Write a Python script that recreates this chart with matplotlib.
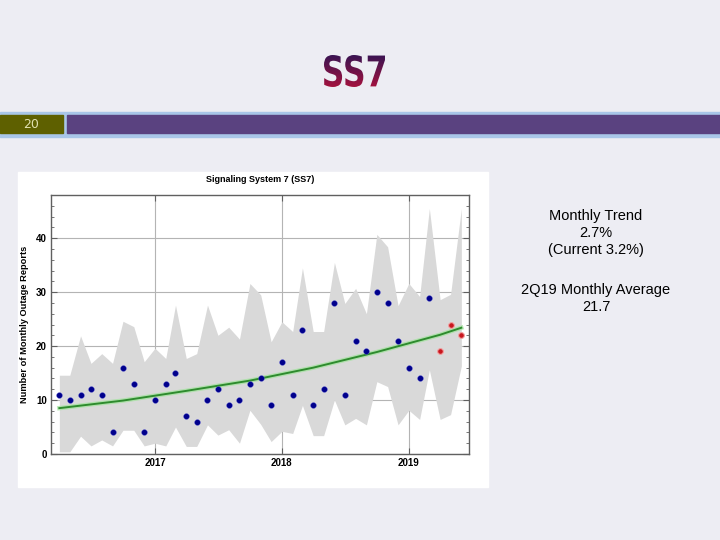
import matplotlib
matplotlib.use("Agg")
import numpy as np
import pandas as pd
import matplotlib.pyplot as plt
import matplotlib.dates as mdates
from matplotlib.patches import Rectangle, PathPatch
from matplotlib.textpath import TextPath
from matplotlib.font_manager import FontProperties
from matplotlib.transforms import Affine2D
from matplotlib.colors import LinearSegmentedColormap
from matplotlib.ticker import MultipleLocator

# monthly outage reports, Apr 2016 .. Jun 2019 (last 3 = current quarter)
counts = [11, 10, 11, 12, 11, 4, 16, 13, 4,
          10, 13, 15, 7, 6, 10, 12, 9, 10, 13, 14, 9,
          17, 11, 23, 9, 12, 28, 11, 21, 19, 30, 28, 21,
          16, 14, 29, 19, 24, 22]
upper = [14.6, 14.6, 21.9, 16.8, 18.6, 16.8, 24.6, 23.6, 17.1,
         19.6, 17.7, 27.6, 17.7, 18.6, 27.6, 22.0, 23.5, 21.3, 31.6, 29.5, 20.8,
         24.5, 22.7, 34.5, 22.7, 22.7, 35.5, 27.9, 30.7, 26.0, 40.7, 38.4, 27.5,
         31.6, 29.2, 45.5, 28.6, 29.6, 45.5]
lower = [0.4, 0.4, 3.3, 1.5, 2.6, 1.5, 4.4, 4.4, 1.5,
         2.0, 1.5, 5.0, 1.4, 1.4, 5.4, 3.5, 4.5, 2.0, 8.1, 5.5, 2.3,
         4.2, 3.8, 9.0, 3.4, 3.4, 10.0, 5.4, 6.6, 5.4, 13.4, 12.5, 5.4,
         8.1, 6.4, 15.6, 6.4, 7.3, 16.3]
n_current = 3

# trend curve (month index, value)
trend_idx = [0, 6, 12, 18, 24, 30, 36, 38]
trend_vals = [8.5, 9.9, 11.7, 13.6, 16.0, 18.9, 22.1, 23.4]

side_lines = ["Monthly Trend", "2.7%", "(Current 3.2%)"]
side_lines2 = ["2Q19 Monthly Average", "21.7"]

months = pd.date_range("2016-04-01", periods=len(counts), freq="MS")
trend_dates = months[trend_idx]

fig = plt.figure(figsize=(7.2, 5.4), dpi=100, facecolor="#EDEDF3")

# slide header
fig.add_artist(Rectangle((0, 1 - 137 / 540), 1, 25 / 540, transform=fig.transFigure,
                         color="#A9C6E8", zorder=0))
fig.add_artist(Rectangle((0, 1 - 133 / 540), 63 / 720, 18 / 540, transform=fig.transFigure,
                         color="#5E6000", zorder=1))
fig.add_artist(Rectangle((67 / 720, 1 - 133 / 540), 1, 18 / 540, transform=fig.transFigure,
                         color="#5A4280", zorder=1))
fig.text(31 / 720, 1 - 124 / 540, "20", color="#E0E0B0", fontsize=9, ha="center", va="center")

# condensed "SS7" title with purple -> crimson gradient, in slide pixel coords
slide = fig.add_axes([0, 0, 1, 1], zorder=-1)
slide.set_xlim(0, 720)
slide.set_ylim(540, 0)
slide.axis("off")
tp = TextPath((0, 0), "SS7", size=40, prop=FontProperties(family="DejaVu Sans", weight="bold"))
ext = tp.get_extents()
x0, x1, y0, y1 = 324, 385, 55, 87
tr = (Affine2D().translate(-ext.x0, -ext.y0)
      .scale((x1 - x0) / ext.width, -(y1 - y0) / ext.height)
      .translate(x0, y1))
patch = PathPatch(tr.transform_path(tp), facecolor="none", edgecolor="none")
slide.add_patch(patch)
grad = LinearSegmentedColormap.from_list("ss7", ["#3A1452", "#A3123E"])
img = slide.imshow(np.linspace(0, 1, 64).reshape(-1, 1), cmap=grad, aspect="auto",
                   extent=(x0, x1, y1, y0), origin="upper")
img.set_clip_path(patch)
slide.set_xlim(0, 720)
slide.set_ylim(540, 0)

# white chart panel
fig.add_artist(Rectangle((18 / 720, 1 - 487 / 540), 470 / 720, 315 / 540,
                         transform=fig.transFigure, color="white", zorder=0))

ax = fig.add_axes([51 / 720, 1 - 454 / 540, 418 / 720, 259 / 540])
ax.set_facecolor("white")
ax.set_axisbelow(True)

ax.fill_between(months, lower, upper, color="#D9D9D9", lw=0, zorder=1)
ax.plot(trend_dates, trend_vals, color="#9FE39A", lw=3.2, alpha=0.7, zorder=2)
ax.plot(trend_dates, trend_vals, color="#2E8B2E", lw=1.4, zorder=3)
ax.scatter(months[:-n_current], counts[:-n_current], s=17, color="#00008C",
           edgecolors="#5A5AD0", linewidths=0.3, zorder=4)
ax.scatter(months[-n_current:], counts[-n_current:], s=17, color="#C8161E",
           edgecolors="#F2A0A0", linewidths=0.8, zorder=4)

ax.set_xlim(pd.Timestamp("2016-03-08"), pd.Timestamp("2019-06-23"))
ax.set_ylim(0, 48)
ax.xaxis.set_major_locator(mdates.YearLocator())
ax.xaxis.set_major_formatter(mdates.DateFormatter("%Y"))
ax.yaxis.set_major_locator(MultipleLocator(10))
ax.yaxis.set_minor_locator(MultipleLocator(2))
ax.grid(which="major", color="#B4B4B4", lw=0.8)
ax.tick_params(which="both", direction="in", top=True, right=True, color="#606060")
ax.tick_params(which="major", length=4, width=0.8, labelsize=7, pad=3)
ax.tick_params(which="minor", length=2.5, width=0.6)
for lab in ax.get_xticklabels() + ax.get_yticklabels():
    lab.set_fontweight("bold")
    lab.set_family("Liberation Sans")
for sp in ax.spines.values():
    sp.set_color("#606060")
    sp.set_linewidth(1)

fig.text(260 / 720, 1 - 179 / 540, "Signaling System 7 (SS7)", fontsize=6.5, fontweight="bold",
         ha="center", va="center", family="Liberation Sans")
fig.text(25 / 720, 1 - 324 / 540, "Number of Monthly Outage Reports", fontsize=6.7,
         fontweight="bold", rotation=90, ha="center", va="center", family="Liberation Sans")

for i, line in enumerate(side_lines):
    fig.text(596 / 720, 1 - (216 + 17 * i) / 540, line, fontsize=10.5, ha="center", va="center",
             family="Liberation Sans")
for i, line in enumerate(side_lines2):
    fig.text(596 / 720, 1 - (290 + 17 * i) / 540, line, fontsize=10.5, ha="center", va="center",
             family="Liberation Sans")

fig.savefig("out.png", dpi=100, facecolor=fig.get_facecolor())
